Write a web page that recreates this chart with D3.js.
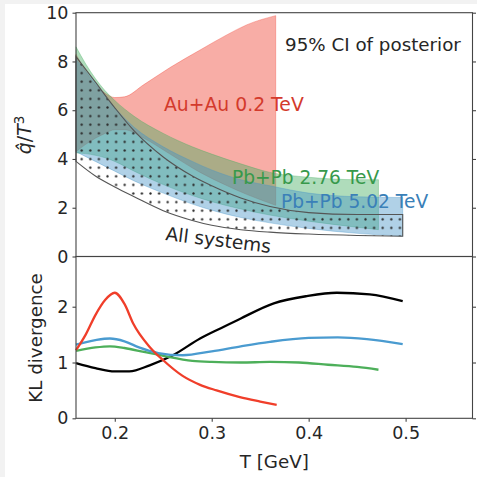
<!DOCTYPE html>
<html>
<head>
<meta charset="utf-8">
<script src="https://cdn.jsdelivr.net/npm/d3@7"></script>
<style>
  body { margin: 0; background: #fff; }
  svg { display: block; font-family: "DejaVu Sans", sans-serif; }
</style>
</head>
<body>
<svg width="477" height="477"></svg>
<script>
// posterior bands, q-hat / T^3
const auT   = [0.16, 0.17, 0.18, 0.19, 0.2, 0.21, 0.23, 0.257, 0.288, 0.316, 0.336, 0.366];
const auHi  = [8.3, 7.6, 7.05, 6.7, 6.52, 6.55, 7.05, 7.75, 8.47, 9.1, 9.5, 9.88];
const auLo  = [4.3, 4.6, 4.85, 5.05, 5.2, 5.2, 4.85, 4.2, 3.45, 2.9, 2.55, 2.1];

const pb276T  = [0.16, 0.17, 0.18, 0.19, 0.2, 0.22, 0.25, 0.28, 0.3, 0.33, 0.36, 0.4, 0.45, 0.472];
const pb276Hi = [8.6, 7.9, 7.3, 6.8, 6.4, 5.75, 5.05, 4.5, 4.2, 3.8, 3.45, 3.25, 3.15, 3.15];
const pb276Lo = [4.25, 4.22, 4.15, 4.05, 3.9, 3.5, 2.95, 2.5, 2.25, 1.95, 1.7, 1.45, 1.2, 1.1];

const pb502T  = [0.16, 0.18, 0.2, 0.22, 0.25, 0.28, 0.3, 0.33, 0.36, 0.4, 0.45, 0.497];
const pb502Hi = [8.1, 7.1, 6.1, 5.3, 4.5, 3.9, 3.55, 3.15, 2.9, 2.6, 2.45, 2.42];
const pb502Lo = [4.3, 3.9, 3.5, 3.1, 2.6, 2.15, 1.9, 1.6, 1.38, 1.15, 0.95, 0.83];

const allT  = [0.16, 0.18, 0.2, 0.22, 0.25, 0.28, 0.3, 0.33, 0.36, 0.4, 0.45, 0.497];
const allHi = [8.2, 7.15, 6.1, 5.15, 4.08, 3.3, 2.9, 2.4, 2.05, 1.8, 1.72, 1.72];
const allLo = [3.9, 3.3, 2.85, 2.45, 1.88, 1.48, 1.28, 1.1, 1.0, 0.92, 0.86, 0.83];

// KL divergence
const klRedT   = [0.16, 0.17, 0.18, 0.19, 0.2, 0.21, 0.219, 0.236, 0.25, 0.27, 0.288, 0.305, 0.329, 0.35, 0.367];
const klRed    = [1.22, 1.5, 1.85, 2.12, 2.25, 2.05, 1.7, 1.28, 1.04, 0.76, 0.6, 0.5, 0.38, 0.3, 0.24];
const klBlueT  = [0.16, 0.18, 0.195, 0.21, 0.225, 0.245, 0.27, 0.3, 0.33, 0.36, 0.4, 0.43, 0.46, 0.497];
const klBlue   = [1.32, 1.4, 1.43, 1.38, 1.27, 1.17, 1.13, 1.2, 1.29, 1.37, 1.44, 1.45, 1.42, 1.33];
const klGreenT = [0.16, 0.18, 0.195, 0.21, 0.23, 0.25, 0.28, 0.3, 0.33, 0.36, 0.39, 0.42, 0.45, 0.472];
const klGreen  = [1.21, 1.27, 1.29, 1.26, 1.19, 1.12, 1.03, 1.01, 1.0, 1.01, 1.0, 0.96, 0.92, 0.87];
const klBlackT = [0.16, 0.18, 0.2, 0.215, 0.236, 0.26, 0.288, 0.31, 0.33, 0.364, 0.398, 0.429, 0.463, 0.497];
const klBlack  = [0.99, 0.9, 0.84, 0.84, 0.95, 1.13, 1.43, 1.62, 1.79, 2.06, 2.19, 2.25, 2.22, 2.1];

const xTicks = [0.2, 0.3, 0.4, 0.5];
const yTopTicks = [0, 2, 4, 6, 8, 10];
const yBotTicks = [0, 1, 2];

const svg = d3.select("svg");
const L = 76, R = 472.5, T0 = 12.7, MID = 256.5, B = 418.3;

// light frame on the left / top edge of the picture
svg.append("rect").attr("x", 0).attr("y", 0).attr("width", 477).attr("height", 4).attr("fill", "#f2f2f2");
svg.append("rect").attr("x", 0).attr("y", 0).attr("width", 5).attr("height", 477).attr("fill", "#f2f2f2");

const x = d3.scaleLinear().domain([0.16, 0.569]).range([L, R]);
const yTop = d3.scaleLinear().domain([0, 10]).range([MID, T0]);
const yBot = d3.scaleLinear().domain([0, 2.9]).range([B, MID]);

const defs = svg.append("defs");
const pat = defs.append("pattern").attr("id", "dots")
  .attr("patternUnits", "userSpaceOnUse").attr("width", 8.6).attr("height", 8.6);
pat.append("circle").attr("cx", 4.3).attr("cy", 4.3).attr("r", 1.15).attr("fill", "#2a2a2a");

function band(ts, lo, hi) {
  return ts.map((t, i) => ({ t, lo: lo[i], hi: hi[i] }));
}
const area = d3.area().x(d => x(d.t)).y0(d => yTop(d.lo)).y1(d => yTop(d.hi)).curve(d3.curveMonotoneX);

const bands = [
  { data: band(auT, auLo, auHi), color: "#ef3b2c", op: 0.42 },
  { data: band(pb276T, pb276Lo, pb276Hi), color: "#41ab5d", op: 0.42 },
  { data: band(pb502T, pb502Lo, pb502Hi), color: "#4292c6", op: 0.42 }
];
bands.forEach(b => {
  svg.append("path").attr("d", area(b.data))
    .attr("fill", b.color).attr("fill-opacity", b.op)
    .attr("stroke", b.color).attr("stroke-opacity", b.op * 0.8).attr("stroke-width", 1);
});

// all systems: hatched band with grey outline
const allData = band(allT, allLo, allHi);
svg.append("path").attr("d", area(allData))
  .attr("fill", "url(#dots)").attr("stroke", "#555").attr("stroke-width", 1.1);

// KL lines
const line = d3.line().x(d => x(d.t)).y(d => yBot(d.v)).curve(d3.curveMonotoneX);
const klSeries = [
  { t: klBlackT, v: klBlack, color: "#000" },
  { t: klGreenT, v: klGreen, color: "#4daf5a" },
  { t: klBlueT, v: klBlue, color: "#4a9bd0" },
  { t: klRedT, v: klRed, color: "#f03e2a" }
];
klSeries.forEach(s => {
  svg.append("path").attr("d", line(s.t.map((t, i) => ({ t, v: s.v[i] }))))
    .attr("fill", "none").attr("stroke", s.color).attr("stroke-width", 2.3);
});

// frames
[[T0, MID], [MID, B]].forEach(([a, b]) => {
  svg.append("rect").attr("x", L).attr("y", a).attr("width", R - L).attr("height", b - a)
    .attr("fill", "none").attr("stroke", "#444").attr("stroke-width", 1.1);
});

function styleAxis(g) {
  g.select(".domain").remove();
  g.selectAll(".tick line").attr("stroke", "#444").attr("stroke-width", 1.1);
  g.selectAll(".tick text").attr("fill", "#262626").attr("font-size", 17.5)
    .attr("font-family", "DejaVu Sans, sans-serif");
}

svg.append("g").attr("transform", `translate(${L},0)`)
  .call(d3.axisLeft(yTop).tickValues(yTopTicks).tickSize(3.5).tickPadding(4).tickFormat(d3.format("d"))).call(styleAxis);
svg.append("g").attr("transform", `translate(${R},0)`)
  .call(d3.axisRight(yTop).tickValues(yTopTicks).tickSize(3.5).tickFormat("")).call(styleAxis);
svg.append("g").attr("transform", `translate(${L},0)`)
  .call(d3.axisLeft(yBot).tickValues(yBotTicks).tickSize(3.5).tickPadding(4).tickFormat(d3.format("d"))).call(styleAxis);
svg.append("g").attr("transform", `translate(${R},0)`)
  .call(d3.axisRight(yBot).tickValues(yBotTicks).tickSize(3.5).tickFormat("")).call(styleAxis);
svg.append("g").attr("transform", `translate(0,${B})`)
  .call(d3.axisBottom(x).tickValues(xTicks).tickSize(3.5).tickPadding(5).tickFormat(d3.format(".1f"))).call(styleAxis);

// annotations
function label(txt, px, py, color, size, rot) {
  const t = svg.append("text").attr("x", px).attr("y", py).text(txt)
    .attr("fill", color).attr("font-size", size);
  if (rot) t.attr("transform", `rotate(${rot},${px},${py})`);
  return t;
}
label("95% CI of posterior", 285, 50.5, "#262626", 18.3);
label("Au+Au 0.2 TeV", 164, 111, "#d33a2c", 18.8);
label("Pb+Pb 2.76 TeV", 232, 184, "#37994b", 18.6);
label("Pb+Pb 5.02 TeV", 281, 208, "#3a80b8", 18.6);
label("All systems", 165, 240, "#262626", 18.6, 7);

// axis titles
const yl = svg.append("text").attr("transform", "translate(31,135) rotate(-90)")
  .attr("text-anchor", "middle").attr("font-size", 19).attr("fill", "#262626");
yl.append("tspan").attr("font-style", "italic").text("q\u0302");
yl.append("tspan").text("/");
yl.append("tspan").attr("font-style", "italic").text("T");
yl.append("tspan").attr("font-size", 13.5).attr("dy", -7.5).text("3");

svg.append("text").attr("transform", "translate(42,338) rotate(-90)")
  .attr("text-anchor", "middle").attr("font-size", 18.3).attr("fill", "#262626").text("KL divergence");
svg.append("text").attr("x", (L + R) / 2).attr("y", 468)
  .attr("text-anchor", "middle").attr("font-size", 18.3).attr("fill", "#262626").text("T [GeV]");
</script>
</body>
</html>
